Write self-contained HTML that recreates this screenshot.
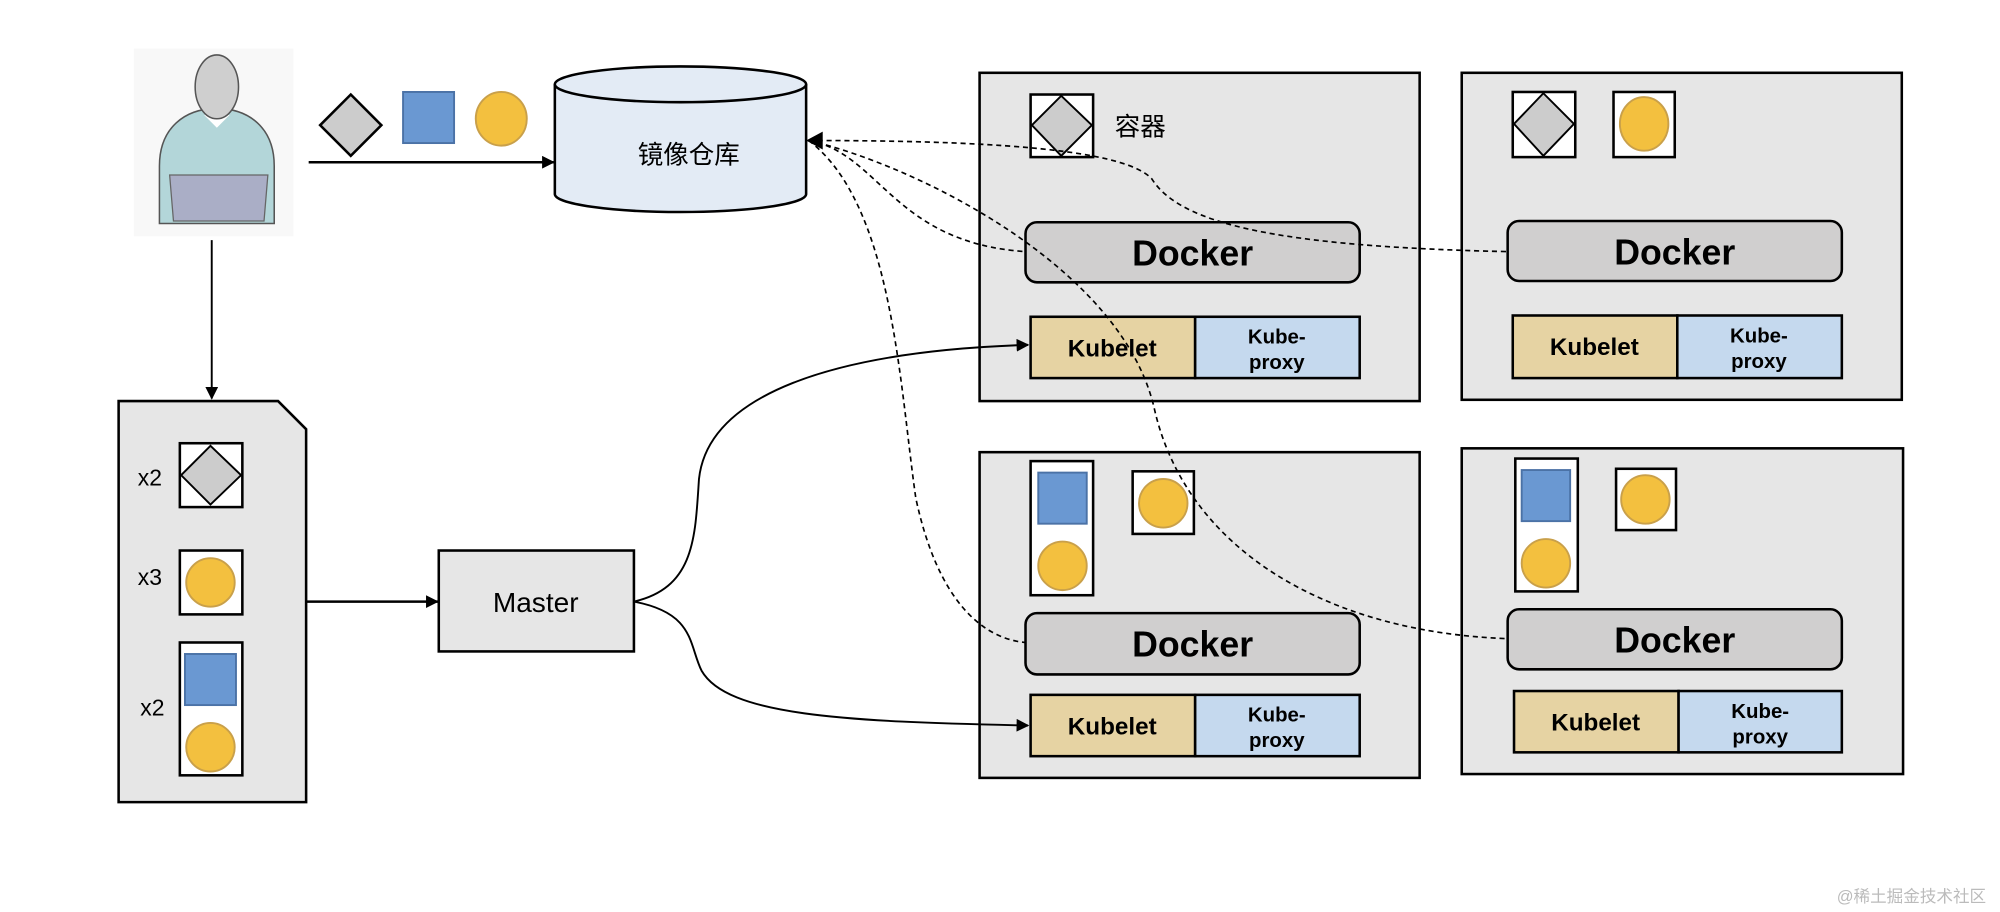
<!DOCTYPE html>
<html><head><meta charset="utf-8"><style>
html,body{margin:0;padding:0;background:#fff;}
svg{display:block;}
text{font-family:"Liberation Sans","Noto Sans CJK SC",sans-serif;}
</style></head><body>
<svg width="2000" height="912" viewBox="0 0 1568 714" preserveAspectRatio="none" xmlns="http://www.w3.org/2000/svg">
<defs>
<marker id="ah" markerWidth="10" markerHeight="10" refX="9" refY="5" orient="auto" markerUnits="userSpaceOnUse"><path d="M0,0 L10,5 L0,10 Z" fill="#000"/></marker>
</defs>
<!-- person -->
<rect x="105" y="38" width="125" height="147" fill="#f8f8f8"/>
<path d="M125,175 L125,130 C125,100 145,85 170,85 C195,85 215,100 215,130 L215,175 Z" fill="#b3d6d9" stroke="#555" stroke-width="1.2"/>
<path d="M160,90 L170,100 L180,90 Z" fill="#fff"/>
<ellipse cx="170" cy="68" rx="17" ry="25" fill="#cfcfcf" stroke="#555" stroke-width="1.2"/>
<path d="M133,137 L210,137 L207,173 L136,173 Z" fill="#aaaec6" stroke="#666" stroke-width="1"/>
<!-- icons -->
<path d="M275,74 L299,98 L275,122 L251,98 Z" fill="#cccccc" stroke="#000" stroke-width="2"/>
<rect x="316" y="72" width="40" height="40" fill="#6a98d2" stroke="#4b72a6" stroke-width="1.5"/>
<ellipse cx="393" cy="93" rx="20" ry="21" fill="#f3c03f" stroke="#c9a04a" stroke-width="1.5"/>
<line x1="242" y1="127" x2="434" y2="127" stroke="#000" stroke-width="2" marker-end="url(#ah)"/>
<!-- cylinder -->
<path d="M435,66 L435,152 A98.5,14 0 0 0 632,152 L632,66" fill="#e3ebf5" stroke="#000" stroke-width="2"/>
<ellipse cx="533.5" cy="66" rx="98.5" ry="14" fill="#e3ebf5" stroke="#000" stroke-width="2"/>
<text x="540" y="128" font-size="20" text-anchor="middle">镜像仓库</text>
<!-- down arrow -->
<line x1="166" y1="188" x2="166" y2="312" stroke="#000" stroke-width="1.5" marker-end="url(#ah)"/>
<!-- document -->
<path d="M93,314 L218,314 L240,336 L240,628 L93,628 Z" fill="#e6e6e6" stroke="#000" stroke-width="2"/>
<text x="108" y="380" font-size="18">x2</text>
<rect x="141" y="347" width="49" height="50" fill="#fff" stroke="#000" stroke-width="2"/>
<path d="M165,349 L189,372 L165,395 L142,372 Z" fill="#ccc" stroke="#000" stroke-width="1.5"/>
<text x="108" y="458" font-size="18">x3</text>
<rect x="141" y="431" width="49" height="50" fill="#fff" stroke="#000" stroke-width="2"/>
<circle cx="165" cy="456" r="19" fill="#f3c03f" stroke="#c9a04a" stroke-width="1.5"/>
<text x="110" y="560" font-size="18">x2</text>
<rect x="141" y="503" width="49" height="104" fill="#fff" stroke="#000" stroke-width="2"/>
<rect x="145" y="512" width="40" height="40" fill="#6a98d2" stroke="#4b72a6" stroke-width="1.5"/>
<circle cx="165" cy="585" r="19" fill="#f3c03f" stroke="#c9a04a" stroke-width="1.5"/>
<line x1="240" y1="471" x2="343" y2="471" stroke="#000" stroke-width="2" marker-end="url(#ah)"/>
<!-- master -->
<rect x="344" y="431" width="153" height="79" fill="#e6e6e6" stroke="#000" stroke-width="2"/>
<text x="420" y="479" font-size="22" text-anchor="middle">Master</text>
<!-- nodes -->
<g stroke="#000" stroke-width="2" fill="#e6e6e6">
<rect x="768" y="57" width="345" height="257"/>
<rect x="1146" y="57" width="345" height="256"/>
<rect x="768" y="354" width="345" height="255"/>
<rect x="1146" y="351" width="346" height="255"/>
</g>
<!-- TL -->
<rect x="808" y="74" width="49" height="49" fill="#fff" stroke="#000" stroke-width="2"/>
<path d="M832,75 L856,98 L832,122 L809,98 Z" fill="#ccc" stroke="#000" stroke-width="1.5"/>
<text x="874" y="106" font-size="20">容器</text>
<!-- TR -->
<rect x="1186" y="72" width="49" height="51" fill="#fff" stroke="#000" stroke-width="2"/>
<path d="M1210,73 L1234,97 L1210,122 L1187,97 Z" fill="#ccc" stroke="#000" stroke-width="1.5"/>
<rect x="1265" y="72" width="48" height="51" fill="#fff" stroke="#000" stroke-width="2"/>
<ellipse cx="1289" cy="97" rx="19" ry="21" fill="#f3c03f" stroke="#c9a04a" stroke-width="1.5"/>
<!-- BL -->
<rect x="808" y="361" width="49" height="105" fill="#fff" stroke="#000" stroke-width="2"/>
<rect x="814" y="370" width="38" height="40" fill="#6a98d2" stroke="#4b72a6" stroke-width="1.5"/>
<circle cx="833" cy="443" r="19" fill="#f3c03f" stroke="#c9a04a" stroke-width="1.5"/>
<rect x="888" y="369" width="48" height="49" fill="#fff" stroke="#000" stroke-width="2"/>
<circle cx="912" cy="394" r="19" fill="#f3c03f" stroke="#c9a04a" stroke-width="1.5"/>
<!-- BR -->
<rect x="1188" y="359" width="49" height="104" fill="#fff" stroke="#000" stroke-width="2"/>
<rect x="1193" y="368" width="38" height="40" fill="#6a98d2" stroke="#4b72a6" stroke-width="1.5"/>
<circle cx="1212" cy="441" r="19" fill="#f3c03f" stroke="#c9a04a" stroke-width="1.5"/>
<rect x="1267" y="367" width="47" height="48" fill="#fff" stroke="#000" stroke-width="2"/>
<circle cx="1290" cy="391" r="19" fill="#f3c03f" stroke="#c9a04a" stroke-width="1.5"/>
<!-- dockers -->
<g stroke="#000" stroke-width="2" fill="#d0cfcf">
<rect x="804" y="174" width="262" height="47" rx="9"/>
<rect x="1182" y="173" width="262" height="47" rx="9"/>
<rect x="804" y="480" width="262" height="48" rx="9"/>
<rect x="1182" y="477" width="262" height="47" rx="9"/>
</g>
<g font-size="28" font-weight="bold" text-anchor="middle">
<text x="935" y="208">Docker</text>
<text x="1313" y="207">Docker</text>
<text x="935" y="514">Docker</text>
<text x="1313" y="511">Docker</text>
</g>
<!-- kubelets -->
<g stroke="#000" stroke-width="2">
<rect x="808" y="248" width="129" height="48" fill="#e6d3a3"/>
<rect x="937" y="248" width="129" height="48" fill="#c5d9ee"/>
<rect x="1186" y="247" width="129" height="49" fill="#e6d3a3"/>
<rect x="1315" y="247" width="129" height="49" fill="#c5d9ee"/>
<rect x="808" y="544" width="129" height="48" fill="#e6d3a3"/>
<rect x="937" y="544" width="129" height="48" fill="#c5d9ee"/>
<rect x="1187" y="541" width="129" height="48" fill="#e6d3a3"/>
<rect x="1316" y="541" width="128" height="48" fill="#c5d9ee"/>
</g>
<g font-size="19" font-weight="bold" text-anchor="middle">
<text x="872" y="279">Kubelet</text>
<text x="1250" y="278">Kubelet</text>
<text x="872" y="575">Kubelet</text>
<text x="1251" y="572">Kubelet</text>
</g>
<g font-size="16" font-weight="bold" text-anchor="middle">
<text x="1001" y="269">Kube-</text><text x="1001" y="289">proxy</text>
<text x="1379" y="268">Kube-</text><text x="1379" y="288">proxy</text>
<text x="1001" y="565">Kube-</text><text x="1001" y="585">proxy</text>
<text x="1380" y="562">Kube-</text><text x="1380" y="582">proxy</text>
</g>
<!-- master curves -->
<g fill="none" stroke="#000" stroke-width="1.5">
<path d="M497,471 C545,460 545,420 548,375 C555,310 650,275 806,270" marker-end="url(#ah)"/>
<path d="M497,471 C545,480 540,505 550,525 C570,560 660,565 806,568" marker-end="url(#ah)"/>
</g>
<!-- dashed curves -->
<g fill="none" stroke="#000" stroke-width="1.3" stroke-dasharray="4,3">
<path d="M634,110 C690,120 700,190 804,197"/>
<path d="M634,110 C760,110 880,115 903,140 C925,175 1000,193 1182,197"/>
<path d="M634,110 C700,160 705,300 718,390 C735,470 770,500 804,503"/>
<path d="M634,110 C720,130 880,210 905,320 C930,430 1040,495 1182,500"/>
</g>
<path d="M632,110 L645,103 L645,117 Z" fill="#000"/>
<text x="1440" y="706" font-size="13" fill="#bbb">@稀土掘金技术社区</text>
</svg>
</body></html>
